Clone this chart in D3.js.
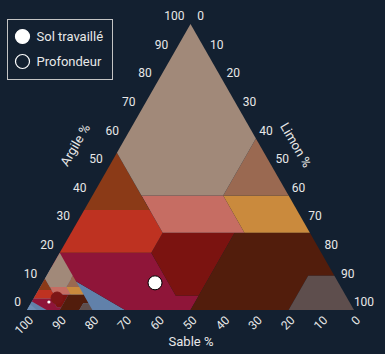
<!DOCTYPE html>
<html>
<head>
<meta charset="utf-8">
<script src="https://cdn.jsdelivr.net/npm/d3@7"></script>
<style>
    body { margin: 0; background: #132030; }
    svg { display: block; font-family: Roboto, 'Noto Sans', sans-serif; }
</style>
</head>
<body>
<div id="chart"></div>
<script>
// soil classes, vertices as [argile, limon, sable]
const classNames = [
    'Sable', 'Sable limoneux', 'Limon sableux', 'Limon', 'Limon silteux', 'Silt',
    'Limon argilo-sableux', 'Limon argileux', 'Limon argilo-silteux',
    'Argile sableuse', 'Argile silteuse', 'Argile'
];
const classColors = [
    '#6d8db4', '#6181aa', '#8f1539', '#7b1310', '#521d0c', '#5e4e4d',
    '#be3221', '#c66d63', '#ca8a3d',
    '#8b3a17', '#9a6951', '#a18979'
];
const classPolygons = [
    [[0, 0, 100], [10, 0, 90], [0, 15, 85]],
    [[10, 0, 90], [15, 0, 85], [0, 30, 70], [0, 15, 85]],
    [[15, 0, 85], [20, 0, 80], [20, 28, 52], [5, 43, 52], [5, 50, 45], [0, 50, 50], [0, 30, 70]],
    [[20, 28, 52], [27, 28, 45], [27, 50, 23], [5, 50, 45], [5, 43, 52]],
    [[0, 50, 50], [27, 50, 23], [27, 73, 0], [12, 88, 0], [12, 80, 8], [0, 80, 20]],
    [[0, 80, 20], [12, 80, 8], [12, 88, 0], [0, 100, 0]],
    [[20, 0, 80], [35, 0, 65], [35, 20, 45], [27, 28, 45], [20, 28, 52]],
    [[27, 28, 45], [40, 15, 45], [40, 40, 20], [27, 53, 20]],
    [[27, 53, 20], [40, 40, 20], [40, 60, 0], [27, 73, 0]],
    [[35, 0, 65], [55, 0, 45], [35, 20, 45]],
    [[40, 40, 20], [60, 40, 0], [40, 60, 0]],
    [[55, 0, 45], [100, 0, 0], [60, 40, 0], [40, 40, 20], [40, 15, 45]]
];
// inset copy of the triangle in the sable corner
const insetScale = 0.2;

const tickValues = [0, 10, 20, 30, 40, 50, 60, 70, 80, 90, 100];

const pointNames = ['Sol travaillé', 'Profondeur', 'Sol travaillé (inset)'];
const pointArgile = [9.5, 4.2, 2.8];
const pointLimon = [34.4, 7.1, 5.3];
const pointRadius = [7, 6, 1.6];
const pointFill = ['#ffffff', '#7e1616', '#ffffff'];
const pointStroke = ['#000000', '#7e1616', 'none'];

const legendNames = ['Sol travaillé', 'Profondeur'];

const width = 385, height = 354;
const svg = d3.select('#chart').append('svg').attr('width', width).attr('height', height);

// ternary projection: horizontal from (limon + argile/2), vertical from argile
const x = d3.scaleLinear().domain([0, 100]).range([27, 354]);
const y = d3.scaleLinear().domain([0, 100]).range([310, 24]);
const proj = (a, l) => [x(l + a / 2), y(a)];

const line = d3.line();

svg.selectAll('.cls')
    .data(classPolygons)
    .enter()
    .append('path')
    .attr('class', 'cls')
    .attr('fill', (d, i) => classColors[i])
    .attr('d', (d) => line(d.map((p) => proj(p[0], p[1]))) + 'Z');

// inset
svg.selectAll('.inset')
    .data(classPolygons)
    .enter()
    .append('path')
    .attr('class', 'inset')
    .attr('fill', (d, i) => classColors[i])
    .attr('d', (d) => line(d.map((p) => proj(p[0] * insetScale, p[1] * insetScale))) + 'Z');

// points
svg.selectAll('.pt')
    .data(pointNames)
    .enter()
    .append('circle')
    .attr('class', 'pt')
    .attr('cx', (d, i) => proj(pointArgile[i], pointLimon[i])[0])
    .attr('cy', (d, i) => proj(pointArgile[i], pointLimon[i])[1])
    .attr('r', (d, i) => pointRadius[i])
    .attr('fill', (d, i) => pointFill[i])
    .attr('stroke', (d, i) => pointStroke[i])
    .attr('stroke-width', 1);

const txt = '#e8e8e8';

// argile ticks (left edge)
svg.selectAll('.ta')
    .data(tickValues)
    .enter()
    .append('text')
    .attr('x', (d) => proj(d, 0)[0] - 6)
    .attr('y', (d) => proj(d, 0)[1] - 8)
    .attr('dy', '.35em')
    .attr('text-anchor', 'end')
    .attr('fill', txt)
    .style('font-size', '12px')
    .text((d) => d);

// limon ticks (right edge)
svg.selectAll('.tl')
    .data(tickValues)
    .enter()
    .append('text')
    .attr('x', (d) => proj(100 - d, d)[0] + 10)
    .attr('y', (d) => proj(100 - d, d)[1] - 8)
    .attr('dy', '.35em')
    .attr('text-anchor', 'middle')
    .attr('fill', txt)
    .style('font-size', '12px')
    .text((d) => d);

// sable ticks (bottom edge)
svg.selectAll('.ts')
    .data(tickValues)
    .enter()
    .append('text')
    .attr('transform', (d) => {
        const p = proj(0, 100 - d);
        return `translate(${p[0] + 4},${p[1] + 8}) rotate(-45)`;
    })
    .attr('dy', '.35em')
    .attr('text-anchor', 'end')
    .attr('fill', txt)
    .style('font-size', '12px')
    .text((d) => d);

// axis titles
const titles = [
    { t: 'Argile %', x: 75, y: 145, r: -60 },
    { t: 'Limon %', x: 296, y: 145, r: 60 },
    { t: 'Sable %', x: 191, y: 341, r: 0 }
];
svg.selectAll('.ttl')
    .data(titles)
    .enter()
    .append('text')
    .attr('transform', (d) => `translate(${d.x},${d.y}) rotate(${d.r})`)
    .attr('dy', '.35em')
    .attr('text-anchor', 'middle')
    .attr('fill', txt)
    .style('font-size', '13px')
    .text((d) => d.t);

// legend
const lg = svg.append('g').attr('transform', 'translate(7.5,19.5)');
lg.append('rect').attr('width', 105).attr('height', 60)
    .attr('fill', '#132030').attr('stroke', '#c4c4c4').attr('stroke-width', 1);
lg.selectAll('circle')
    .data(legendNames)
    .enter()
    .append('circle')
    .attr('cx', 15)
    .attr('cy', (d, i) => 17 + i * 25)
    .attr('r', 7)
    .attr('fill', (d, i) => (i === 0 ? '#ffffff' : '#132030'))
    .attr('stroke', '#ffffff')
    .attr('stroke-width', 1.2);
lg.selectAll('text')
    .data(legendNames)
    .enter()
    .append('text')
    .attr('x', 29)
    .attr('y', (d, i) => 17 + i * 25)
    .attr('dy', '.35em')
    .attr('fill', txt)
    .style('font-size', '13px')
    .text((d) => d);
</script>
</body>
</html>
